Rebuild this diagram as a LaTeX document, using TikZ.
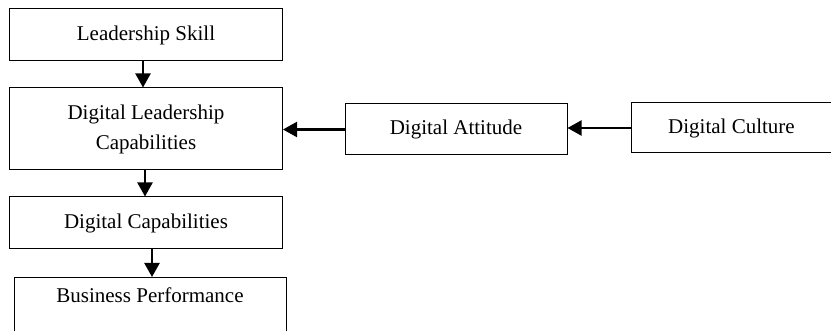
\documentclass[tikz,border=0pt]{standalone}
\usepackage{fontspec}
\setmainfont{Liberation Serif}
\usetikzlibrary{arrows.meta}

\tikzset{
  box/.style={draw, line width=0.5pt, rectangle, align=center,
              font=\fontsize{10.5}{15}\selectfont, inner sep=0pt},
  flow/.style={-{Triangle[length=7pt, width=7.5pt]}, line width=1.1pt}
}

\begin{document}
\begin{tikzpicture}[x=0.5pt, y=-0.5pt]
        \useasboundingbox (0,0) rectangle (831,331);
        \node[box, minimum width=136.5pt, minimum height=26pt]
              (skill) at (146,35) {Leadership Skill};
        \node[box, minimum width=136.5pt, minimum height=41pt]
              (dlc) at (146,129) {Digital Leadership\\Capabilities};
        \node[box, minimum width=136.5pt, minimum height=26pt]
              (dcap) at (146,223) {Digital Capabilities};
        \node[box, anchor=north, minimum width=136pt,
              text height=12.5pt, text depth=19pt]
              (perf) at (150,277) {Business Performance};
        \node[box, minimum width=111pt, minimum height=25.5pt]
              (attitude) at (456,129.5) {Digital Attitude};
        \node[box, minimum width=100.5pt, minimum height=25pt]
              (culture) at (731.5,128) {Digital Culture};
        % arrows
        \draw[flow]([xshift=-1.5pt]skill.south)--([xshift=-1.5pt]dlc.north);
        \draw[flow]([xshift=-0.5pt]dlc.south)--([xshift=-0.5pt]dcap.north);
        \draw[flow]([xshift=3pt]dcap.south)--([xshift=3pt]dcap.south |- perf.north);
        \draw[flow](attitude.west)--(attitude.west -| dlc.east);
        \draw[flow](culture.west)--(culture.west -| attitude.east);
      \end{tikzpicture}
\end{document}
